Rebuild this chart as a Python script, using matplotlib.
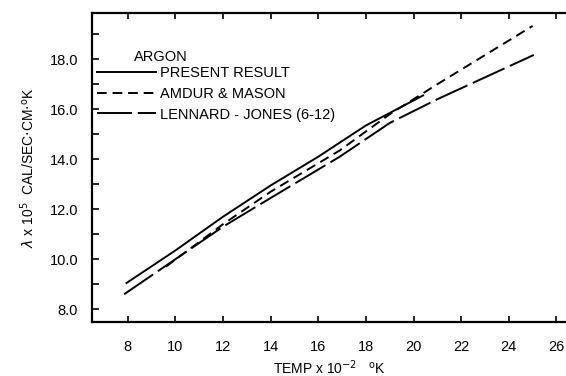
import matplotlib
matplotlib.use("Agg")
import matplotlib.pyplot as plt
from matplotlib.ticker import MultipleLocator

plt.rcParams['font.family'] = ['Liberation Sans', 'DejaVu Sans']

# curves (temp in 100 K, conductivity x 1e5)
present_t = [7.95, 10, 12, 14, 16, 18, 20.4]
present_k = [9.05, 10.35, 11.7, 12.95, 14.1, 15.35, 16.55]

amdur_t = [9.6, 12, 14, 16.9, 19, 21, 25.0]
amdur_k = [9.7, 11.4, 12.7, 14.35, 15.8, 17.0, 19.33]

lj_t = [7.85, 10, 12, 14, 16.9, 19, 21, 25.05]
lj_k = [8.6, 10.0, 11.3, 12.45, 14.1, 15.45, 16.4, 18.17]

labels = ["PRESENT RESULT", "AMDUR & MASON", "LENNARD - JONES (6-12)"]
xticks = [8, 10, 12, 14, 16, 18, 20, 22, 24, 26]
yticks = [8.0, 10.0, 12.0, 14.0, 16.0, 18.0]

fig = plt.figure(figsize=(5.66, 3.76), dpi=100)
ax = fig.add_axes([0.1625, 0.1436, 0.8375, 0.822])

lw = 1.4
ax.plot(present_t, present_k, color="black", lw=lw, label=labels[0])
ax.plot(amdur_t, amdur_k, color="black", lw=lw, dashes=(5, 3), label=labels[1])
ax.plot(lj_t, lj_k, color="black", lw=lw, dashes=(18, 3), label=labels[2])

ax.set_xlim(6.5, 26.4)
ax.set_ylim(7.49, 19.85)
ax.set_xticks(xticks)
ax.set_xticklabels([str(t) for t in xticks], fontsize=10.5)
ax.set_yticks(yticks)
ax.set_yticklabels([f"{v:.1f}" for v in yticks], fontsize=10.5)
ax.yaxis.set_minor_locator(MultipleLocator(1.0))

ax.tick_params(axis="x", which="major", direction="in", length=4, width=1.2,
               top=True, bottom=True, pad=13)
ax.tick_params(axis="y", which="both", direction="in", length=5, width=1.2,
               left=True, right=False, pad=10)
ax.spines["right"].set_visible(False)
for side in ["left", "top", "bottom"]:
    ax.spines[side].set_linewidth(1.6)

ax.set_xlabel("TEMP x 10$^{-2}$   $^{\\mathrm{o}}$K", fontsize=10, labelpad=3)
ax.set_ylabel("$\\lambda$ x 10$^5$  CAL/SEC$\\cdot$CM$\\cdot$$^{\\mathrm{o}}$K",
              fontsize=10, labelpad=9)

ax.text(0.088, 0.845, "ARGON", transform=ax.transAxes, fontsize=10.5)
ax.legend(loc="upper left", bbox_to_anchor=(-0.01, 0.86), frameon=False,
          fontsize=10.5, handlelength=4.0, handletextpad=0.3,
          labelspacing=0.45, borderpad=0.2)

fig.savefig("out.png", dpi=100)
